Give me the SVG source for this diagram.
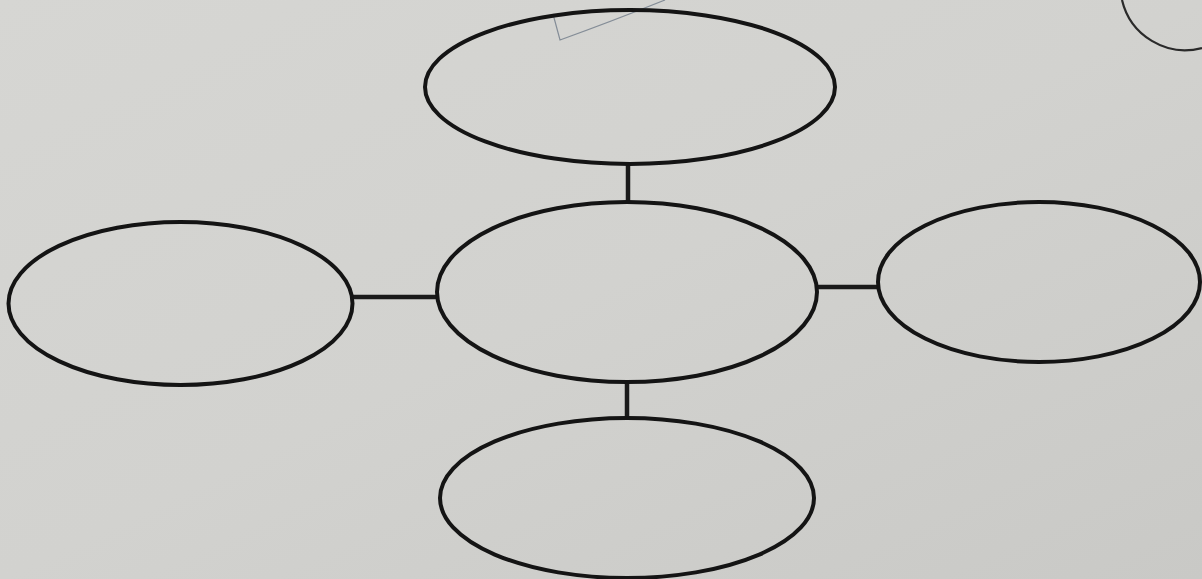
<svg xmlns="http://www.w3.org/2000/svg" width="1202" height="579" viewBox="0 0 1202 579">
  <defs>
    <style>
      .node { fill: none; stroke: #141414; stroke-width: 4; }
      .conn { stroke: #1a1a1a; stroke-width: 4.5; fill: none; }
    </style>
    <linearGradient id="bg" x1="0" y1="0" x2="1" y2="1">
      <stop offset="0" stop-color="#d6d6d3"/>
      <stop offset="0.5" stop-color="#d2d2cf"/>
      <stop offset="1" stop-color="#c9c9c6"/>
    </linearGradient>
  </defs>
  <rect width="1202" height="579" fill="url(#bg)"/>
  <path d="M553,14 L560,40 Q610,22 665,0" fill="none" stroke="#6f7a88" stroke-width="1.2" opacity="0.8"/>
  <path d="M1122,0 A65,65 0 0 0 1202,48" fill="none" stroke="#2a2a2a" stroke-width="2.2"/>
  <g id="connectors">
    <line class="conn" x1="628" y1="164" x2="628" y2="203"/>
    <line class="conn" x1="352" y1="297" x2="438" y2="297"/>
    <line class="conn" x1="817" y1="287" x2="879" y2="287"/>
    <line class="conn" x1="627" y1="381" x2="627" y2="419"/>
  </g>
  <g id="top"><ellipse class="node" cx="630" cy="87" rx="205" ry="77"/></g>
  <g id="center"><ellipse class="node" cx="627" cy="292" rx="190" ry="90"/></g>
  <g id="left"><ellipse class="node" cx="180.5" cy="303.5" rx="172" ry="81.5"/></g>
  <g id="right"><ellipse class="node" cx="1039" cy="282" rx="161" ry="80"/></g>
  <g id="bottom"><ellipse class="node" cx="627" cy="498" rx="187" ry="80"/></g>
</svg>
